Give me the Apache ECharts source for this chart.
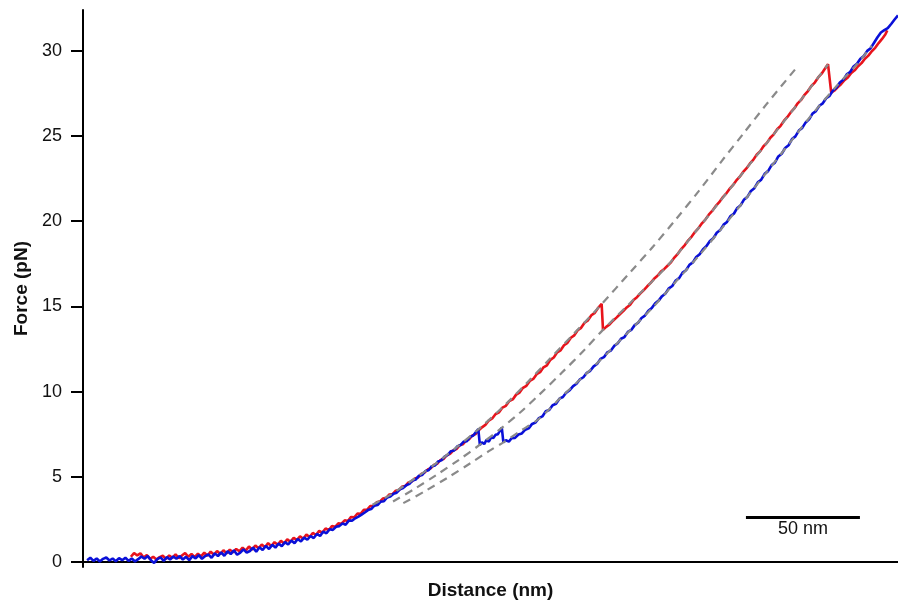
<!DOCTYPE html>
<html>
<head>
<meta charset="utf-8">
<script src="https://cdn.jsdelivr.net/npm/echarts@6/dist/echarts.min.js"></script>
<style>
html,body{margin:0;padding:0;background:#fff;}
#chart{width:898px;height:605px;}
</style>
</head>
<body>
<div id="chart"></div>
<script>
// Force (pN) vs distance (nm)
const yTicks = [0, 5, 10, 15, 20, 25, 30];
const xTitle = 'Distance (nm)';
const yTitle = 'Force (pN)';
const scaleBarLabel = '50 nm';
const scaleBarX = [290.8, 340.8];
const scaleBarY = 2.61;

const redTrace = [
[21.0,0.30],[22.4,0.52],[23.8,0.38],[25.2,0.50],[26.6,0.26],[28.0,0.40],[29.4,0.18],[30.8,0.30],[32.2,0.14],[33.6,0.28],
[35.0,0.36],[36.4,0.18],[37.8,0.38],[39.2,0.24],[40.6,0.44],[42.0,0.22],[43.4,0.38],[44.8,0.52],[46.2,0.30],[47.6,0.46],
[49.0,0.28],[50.4,0.48],[51.8,0.32],[53.2,0.54],[54.6,0.36],[56.0,0.60],[57.4,0.42],[58.8,0.64],[60.2,0.46],[61.6,0.68],
[63.0,0.50],[64.4,0.72],[65.8,0.56],[67.2,0.76],[68.6,0.62],[70.0,0.84],[71.4,0.66],[72.8,0.90],[74.2,0.72],[75.6,0.96],
[77.0,0.80],[78.4,1.02],[79.8,0.86],[81.2,1.10],[82.6,0.92],[84.0,1.16],[85.4,1.00],[86.8,1.24],[88.2,1.08],[89.6,1.32],
[91.0,1.18],[92.4,1.42],[93.8,1.28],[95.2,1.50],[96.6,1.36],[98.0,1.60],[99.4,1.46],[100.8,1.70],[102.2,1.58],[103.6,1.82],
[105.0,1.72],[106.4,1.96],[107.8,1.86],[109.2,2.10],[110.6,2.06],[112.0,2.26],[113.4,2.24],[114.8,2.44],[116.2,2.40],[117.6,2.64],
[119.0,2.62],[120.4,2.84],[121.8,2.82],[123.2,3.06],[124.6,3.06],[126.0,3.28],[127.4,3.30],[128.8,3.50],[130.2,3.54],[131.6,3.72],
[133.0,3.76],[134.4,3.96],[135.8,3.98],[137.2,4.18],[138.6,4.22],[140.0,4.42],[141.4,4.46],[142.8,4.66],[144.2,4.72],[145.6,4.90],
[147.0,4.96],[148.4,5.16],[149.8,5.24],[151.2,5.42],[152.6,5.50],[154.0,5.70],[155.4,5.76],[156.8,5.98],[158.2,6.04],[159.6,6.26],
[161.0,6.34],[162.4,6.54],[163.8,6.62],[165.2,6.84],[166.6,6.90],[168.0,7.12],[169.4,7.20],[170.8,7.42],[172.2,7.50],[173.6,7.72],
[175.0,7.90],[176.5,8.04],[178.0,8.30],[179.5,8.42],[181.0,8.68],[182.5,8.78],[184.0,9.06],[185.5,9.16],[187.0,9.44],[188.5,9.54],
[190.0,9.82],[191.5,9.94],[193.0,10.22],[194.5,10.34],[196.0,10.62],[197.5,10.74],[199.0,11.02],[200.5,11.14],[202.0,11.42],[203.5,11.54],
[205.0,11.86],[206.5,12.00],[208.0,12.30],[209.5,12.42],[211.0,12.72],[212.5,12.86],[214.0,13.16],[215.5,13.30],[217.0,13.60],[218.5,13.74],
[220.0,14.04],[221.5,14.18],[223.0,14.48],[224.5,14.62],[226.0,14.92],[227.5,15.15],[228.1,13.62],[229.5,13.80],[231.0,13.94],[232.5,14.16],
[234.0,14.34],[235.5,14.54],[237.0,14.72],[238.5,14.94],[240.0,15.10],[241.5,15.38],[243.0,15.54],[244.5,15.76],[246.0,15.96],[247.5,16.18],
[249.0,16.38],[250.5,16.62],[252.0,16.80],[253.5,17.04],[255.0,17.20],[256.5,17.40],[258.0,17.60],[259.5,17.88],[261.0,18.10],[262.5,18.38],
[264.0,18.60],[265.5,18.88],[267.0,19.10],[268.5,19.38],[270.0,19.60],[271.5,19.88],[273.0,20.10],[274.5,20.38],[276.0,20.60],[277.5,20.88],
[279.0,21.10],[280.5,21.38],[282.0,21.60],[283.5,21.88],[285.0,22.10],[286.5,22.38],[288.0,22.60],[289.5,22.88],[291.0,23.10],[292.5,23.38],
[294.0,23.60],[295.5,23.90],[297.0,24.10],[298.5,24.40],[300.0,24.60],[301.5,24.90],[303.0,25.10],[304.5,25.40],[306.0,25.60],[307.5,25.90],
[309.0,26.12],[310.5,26.40],[312.0,26.62],[313.5,26.92],[315.0,27.12],[316.5,27.42],[318.0,27.64],[319.5,27.94],[321.0,28.14],[322.5,28.44],
[324.0,28.66],[325.5,28.96],[326.8,29.22],[328.2,27.55],[329.5,27.66],[331.0,27.86],[332.5,28.04],[334.0,28.28],[335.5,28.44],[337.0,28.70],
[338.5,28.86],[340.0,29.10],[341.5,29.28],[343.0,29.54],[344.5,29.72],[346.0,29.98],[347.5,30.18],[349.0,30.46],[350.5,30.70],[352.0,30.98],
[352.8,31.20]
];

const blueTrace = [
[1.8,0.10],[3.2,0.24],[4.6,0.06],[6.0,0.20],[7.4,0.02],[8.8,0.18],[10.2,0.26],[11.6,0.08],[13.0,0.20],[14.4,0.04],
[15.8,0.22],[17.2,0.10],[18.6,0.24],[20.0,0.06],[21.4,0.20],[22.8,0.02],[24.2,0.16],[25.6,0.32],[27.0,0.18],[28.4,0.34],
[29.8,0.10],[31.2,-0.06],[32.6,0.16],[34.0,0.26],[35.4,0.06],[36.8,0.28],[38.2,0.14],[39.6,0.32],[41.0,0.18],[42.4,0.34],
[43.8,0.14],[45.2,0.30],[46.6,0.10],[48.0,0.34],[49.4,0.20],[50.8,0.40],[52.2,0.18],[53.6,0.34],[55.0,0.44],[56.4,0.24],
[57.8,0.50],[59.2,0.34],[60.6,0.56],[62.0,0.36],[63.4,0.62],[64.8,0.46],[66.2,0.68],[67.6,0.42],[69.0,0.54],[70.4,0.74],
[71.8,0.54],[73.2,0.64],[74.6,0.84],[76.0,0.60],[77.4,0.86],[78.8,0.70],[80.2,0.94],[81.6,0.76],[83.0,1.00],[84.4,0.84],
[85.8,1.08],[87.2,0.92],[88.6,1.16],[90.0,1.02],[91.4,1.26],[92.8,1.10],[94.2,1.34],[95.6,1.20],[97.0,1.42],[98.4,1.30],
[99.8,1.52],[101.2,1.40],[102.6,1.64],[104.0,1.52],[105.4,1.78],[106.8,1.68],[108.2,1.92],[109.6,1.88],[111.0,2.06],[112.4,2.10],
[113.8,2.26],[115.2,2.18],[116.6,2.42],[118.0,2.42],[119.4,2.56],[120.8,2.66],[122.2,2.78],[123.6,2.90],[125.0,3.04],[126.4,3.10],
[127.8,3.30],[129.2,3.34],[130.6,3.54],[132.0,3.56],[133.4,3.78],[134.8,3.84],[136.2,4.00],[137.6,4.06],[139.0,4.26],[140.4,4.34],
[141.8,4.50],[143.2,4.58],[144.6,4.78],[146.0,4.84],[147.4,5.06],[148.8,5.10],[150.2,5.34],[151.6,5.38],[153.0,5.62],[154.4,5.66],
[155.8,5.90],[157.2,5.96],[158.6,6.18],[160.0,6.28],[161.4,6.50],[162.8,6.54],[164.2,6.78],[165.6,6.86],[167.0,7.06],[168.4,7.08],
[169.8,7.34],[171.2,7.42],[172.6,7.66],[173.4,7.80],[174.1,6.86],[175.0,7.02],[176.0,6.92],[177.0,7.16],[178.0,7.06],[179.0,7.30],
[180.0,7.28],[181.0,7.46],[182.0,7.50],[183.0,7.72],[183.7,7.88],[184.4,7.02],[185.5,7.14],[186.8,7.06],[188.0,7.26],[189.5,7.28],
[191.0,7.48],[192.5,7.54],[194.0,7.76],[195.5,7.84],[197.0,8.10],[198.5,8.18],[200.0,8.44],[201.5,8.54],[203.0,8.84],[204.5,8.92],
[206.0,9.20],[207.5,9.28],[209.0,9.58],[210.5,9.68],[212.0,9.94],[213.5,10.08],[215.0,10.32],[216.5,10.46],[218.0,10.72],[219.5,10.84],
[221.0,11.10],[222.5,11.22],[224.0,11.48],[225.5,11.62],[227.0,11.92],[228.5,12.02],[230.0,12.30],[231.5,12.40],[233.0,12.68],[234.5,12.82],
[236.0,13.10],[237.5,13.20],[239.0,13.50],[240.5,13.62],[242.0,13.90],[243.5,14.04],[245.0,14.32],[246.5,14.46],[248.0,14.74],[249.5,14.90],
[251.0,15.18],[252.5,15.34],[254.0,15.60],[255.5,15.76],[257.0,16.06],[258.5,16.20],[260.0,16.52],[261.5,16.66],[263.0,16.98],[264.5,17.12],
[266.0,17.44],[267.5,17.58],[269.0,17.90],[270.5,18.06],[272.0,18.36],[273.5,18.54],[275.0,18.84],[276.5,19.00],[278.0,19.32],[279.5,19.48],
[281.0,19.80],[282.5,19.96],[284.0,20.30],[285.5,20.44],[287.0,20.78],[288.5,20.94],[290.0,21.28],[291.5,21.44],[293.0,21.78],[294.5,21.94],
[296.0,22.28],[297.5,22.44],[299.0,22.78],[300.5,22.94],[302.0,23.28],[303.5,23.44],[305.0,23.80],[306.5,23.96],[308.0,24.30],[309.5,24.46],
[311.0,24.82],[312.5,24.98],[314.0,25.32],[315.5,25.48],[317.0,25.80],[318.5,25.98],[320.0,26.32],[321.5,26.46],[323.0,26.78],[324.5,26.92],
[326.0,27.22],[327.5,27.36],[329.0,27.68],[330.5,27.84],[332.0,28.14],[333.5,28.30],[335.0,28.62],[336.5,28.76],[338.0,29.08],[339.5,29.24],
[341.0,29.54],[342.5,29.70],[344.0,30.00],[345.5,30.16],[347.0,30.48],[348.5,30.80],[350.0,31.08],[351.5,31.22],[353.0,31.34],[354.5,31.58],
[356.0,31.84],[357.5,32.08]
];

const fitA = [
[127,3.35],[135,3.95],[145,4.85],[155,5.8],[165,6.85],[174,7.85],[185,9.2],[195,10.55],[205,11.95],[215,13.35],
[227.6,15.15],[240,17.0],[250,18.5],[260,20.1],[270,21.75],[280,23.5],[290,25.2],[300,26.9],[312.3,28.9]
];
const fitB = [
[136,3.55],[145,4.25],[155,5.1],[165,6.0],[174.1,6.88],[183.5,7.85],[192,8.8],[200,9.8],[210,11.1],[220,12.45],
[228.1,13.62],[240,15.2],[256.1,17.35],[270,19.6],[285,22.1],[300,24.6],[315,27.14],[326.8,29.2]
];
const fitC = [
[140.5,3.45],[150,4.15],[160,4.95],[170,5.8],[178,6.5],[184.4,7.02],[192,7.7],[200,8.4],[210,9.7],[220,10.95],
[230,12.25],[240,13.6],[250,14.95],[260,16.45],[270,17.95],[280,19.55],[290,21.2],[300,22.9],[310,24.6],[320,26.3],
[330,27.85],[340,29.3],[346,30.3]
];

const xRange = [0, 357.5];
const yRange = [-0.3, 32.4];

const chart = echarts.init(document.getElementById('chart'), null, {renderer: 'canvas'});
const FONT = '"Liberation Sans", Arial, Helvetica, sans-serif';
const dashStyle = {color: '#8a8a8a', width: 2.2, type: [8, 6]};

chart.setOption({
  animation: false,
  backgroundColor: '#ffffff',
  grid: {left: 83, right: 0, top: 10, bottom: 38},
  xAxis: {
    type: 'value', min: xRange[0], max: xRange[1],
    name: xTitle, nameLocation: 'middle', nameGap: 14,
    nameTextStyle: {fontFamily: FONT, fontSize: 19, fontWeight: 'bold', color: '#111'},
    axisLine: {show: true, lineStyle: {color: '#000', width: 2}},
    axisTick: {show: false}, axisLabel: {show: false}, splitLine: {show: false}
  },
  yAxis: {
    type: 'value', min: yRange[0], max: yRange[1],
    name: yTitle, nameLocation: 'middle', nameGap: 47,
    nameTextStyle: {fontFamily: FONT, fontSize: 19, fontWeight: 'bold', color: '#111'},
    axisLine: {show: true, lineStyle: {color: '#000', width: 2}},
    axisTick: {show: true, length: 12, lineStyle: {color: '#000', width: 2}, customValues: yTicks},
    axisLabel: {show: true, margin: 21, fontFamily: FONT, fontSize: 18, color: '#111', customValues: yTicks},
    splitLine: {show: false}
  },
  series: [
    {type: 'line', data: redTrace, showSymbol: false, lineStyle: {color: '#e8141c', width: 2.6}, z: 2},
    {type: 'line', data: blueTrace, showSymbol: false, lineStyle: {color: '#0a10d8', width: 2.6}, z: 3},
    {type: 'line', data: fitA, showSymbol: false, smooth: 0.3, lineStyle: dashStyle, z: 4},
    {type: 'line', data: fitB, showSymbol: false, smooth: 0.3, lineStyle: dashStyle, z: 4},
    {type: 'line', data: fitC, showSymbol: false, smooth: 0.3, lineStyle: dashStyle, z: 4},
    {type: 'line', data: scaleBarX.map(x => [x, scaleBarY]), showSymbol: false,
     lineStyle: {color: '#000', width: 3}, z: 5},
    {type: 'scatter', data: [[(scaleBarX[0] + scaleBarX[1]) / 2, scaleBarY]], symbolSize: 0, z: 5,
     itemStyle: {opacity: 1, color: '#000'},
     label: {show: true, position: 'bottom', distance: 3, formatter: scaleBarLabel,
             fontFamily: FONT, fontSize: 18, color: '#111', opacity: 1}}
  ]
});
</script>
</body>
</html>
